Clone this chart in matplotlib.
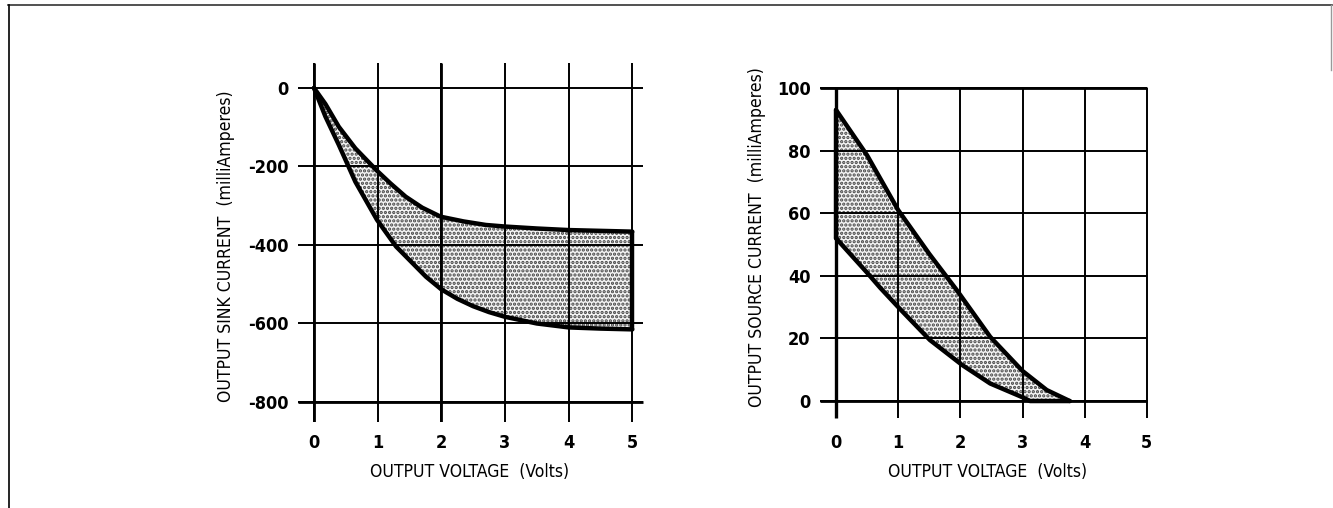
import matplotlib
matplotlib.use('Agg')
import matplotlib.pyplot as plt
from matplotlib.lines import Line2D

plt.rcParams['font.family'] = ['DejaVu Sans']
plt.rcParams['font.stretch'] = 'condensed'
plt.rcParams['hatch.linewidth'] = 1.6
plt.rcParams['hatch.color'] = '#555555'

# -------------------------- data --------------------------
sink_hi_v = [0, 0.18, 0.39, 0.65, 0.99, 1.2, 1.44, 1.7, 1.99, 2.35, 2.7, 3.0, 3.5, 4.0, 4.5, 5.0]
sink_hi = [0, -41, -99, -154, -211, -243, -277, -305, -328, -340, -349, -353, -358, -362, -364, -366]
sink_lo_v = [0, 0.18, 0.39, 0.65, 0.99, 1.29, 1.76, 2.0, 2.25, 2.5, 2.75, 3.0, 3.5, 4.0, 4.5, 5.0]
sink_lo = [0, -73, -145, -239, -336, -404, -481, -513, -537, -556, -571, -583, -600, -610, -613, -615]

src_hi_v = [0, 0.5, 1.0, 1.5, 1.94, 2.48, 3.0, 3.39, 3.76]
src_hi = [93, 78.5, 61, 47, 35.5, 20.5, 9.6, 3.5, 0]
src_lo_v = [0, 0.5, 0.71, 1.02, 1.51, 2.03, 2.48, 3.0, 3.12, 3.76]
src_lo = [52, 41, 36.2, 29.6, 19.5, 11.5, 5.6, 1.2, 0, 0]

sink_yticks = [0, -200, -400, -600, -800]
src_yticks = [0, 20, 40, 60, 80, 100]
volt_ticks = [0, 1, 2, 3, 4, 5]

xlabel = 'OUTPUT VOLTAGE  (Volts)'
sink_ylabel = 'OUTPUT SINK CURRENT  (milliAmperes)'
src_ylabel = 'OUTPUT SOURCE CURRENT  (milliAmperes)'

fig = plt.figure(figsize=(13.33, 5.08), dpi=100)

# outer frame
fig.add_artist(Line2D([8/1333, 1332/1333], [1-5/508, 1-5/508], color='#333333', lw=1.2))
fig.add_artist(Line2D([9/1333, 9/1333], [1-5/508, 0], color='black', lw=1.2))
fig.add_artist(Line2D([1331/1333, 1331/1333], [1-5/508, 1-70/508], color='#999999', lw=1.0))

fill_kw = dict(facecolor='#f4f4f4', hatch='....', edgecolor='#444444', linewidth=0, zorder=1)
curve_kw = dict(color='black', lw=3.2, solid_capstyle='round', solid_joinstyle='round', zorder=5)
tick_font = dict(fontsize=13, fontweight='bold')


def band(ax, xa, ya, xb, yb):
    # closed region between two curves read at different voltages
    ax.fill(list(xa) + list(xb[::-1]), list(ya) + list(yb[::-1]), **fill_kw)


# -------------------------- left: sink current --------------------------
ax1 = fig.add_axes([0.2236, 0.170, 0.4839 - 0.2236, 0.881 - 0.170])
ax1.set_xlim(-0.25, 5.2)
ax1.set_ylim(-850, 70)
for s in ax1.spines.values():
    s.set_visible(False)
ax1.hlines(sink_yticks, -0.25, 5.17, color='black', lw=1.4, zorder=2)
ax1.hlines([-800], -0.25, 5.17, color='black', lw=2.0, zorder=2)
ax1.vlines(volt_ticks, -850, 64, color='black', lw=1.4, zorder=2)
ax1.vlines([0, 2], -850, 64, color='black', lw=2.0, zorder=2)
band(ax1, sink_hi_v, sink_hi, sink_lo_v, sink_lo)
ax1.plot(sink_hi_v, sink_hi, **curve_kw)
ax1.plot(sink_lo_v, sink_lo, **curve_kw)
ax1.plot([5, 5], [sink_hi[-1], sink_lo[-1]], **curve_kw)
ax1.set_xticks(volt_ticks)
ax1.set_xticklabels([str(t) for t in volt_ticks], **tick_font)
ax1.set_yticks(sink_yticks)
ax1.set_yticklabels([str(t) for t in sink_yticks], **tick_font)
ax1.tick_params(axis='x', length=0, pad=9)
ax1.tick_params(axis='y', length=0, pad=7)

# -------------------------- right: source current --------------------------
ax2 = fig.add_axes([0.6155, 0.1736, 0.8627 - 0.6155, 0.8329 - 0.1736])
ax2.set_xlim(-0.25, 5.05)
ax2.set_ylim(-6, 101)
for s in ax2.spines.values():
    s.set_visible(False)
ax2.hlines(src_yticks, -0.25, 5.0, color='black', lw=1.4, zorder=2)
ax2.hlines([0, 100], -0.25, 5.0, color='black', lw=2.0, zorder=2)
ax2.vlines(volt_ticks, -5.4, 100, color='black', lw=1.4, zorder=2)
ax2.vlines([0], -5.4, 100, color='black', lw=2.4, zorder=2)
band(ax2, src_hi_v, src_hi, src_lo_v, src_lo)
ax2.plot(src_hi_v, src_hi, **curve_kw)
ax2.plot(src_lo_v, src_lo, **curve_kw)
ax2.plot([0, 0], [src_lo[0], src_hi[0]], **curve_kw)
ax2.set_xticks(volt_ticks)
ax2.set_xticklabels([str(t) for t in volt_ticks], **tick_font)
ax2.set_yticks(src_yticks)
ax2.set_yticklabels([str(t) for t in src_yticks], **tick_font)
ax2.tick_params(axis='x', length=0, pad=10)
ax2.tick_params(axis='y', length=0, pad=7)

# axis titles
fig.text(470/1333, 1-472/508, xlabel, ha='center', va='center', fontsize=12.6)
fig.text(988/1333, 1-472/508, xlabel, ha='center', va='center', fontsize=12.6)
fig.text(226/1333, 1-246/508, sink_ylabel, ha='center', va='center', rotation=90, fontsize=12.6)
fig.text(757/1333, 1-237/508, src_ylabel, ha='center', va='center', rotation=90, fontsize=12.6)

plt.savefig('out.png', dpi=100)
